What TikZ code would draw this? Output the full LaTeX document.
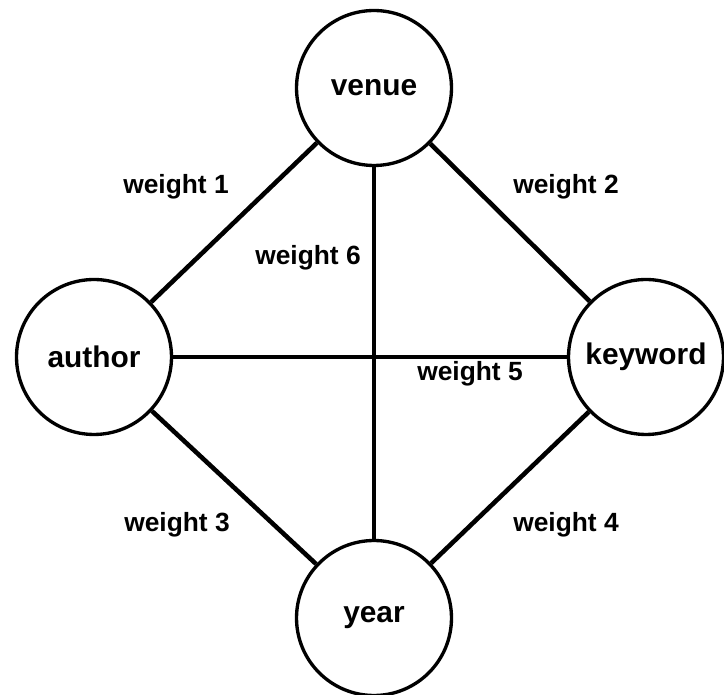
\documentclass[tikz,border=0pt]{standalone}
\usepackage{fontspec}
\setmainfont{Liberation Sans}
\usepackage{tikz}
\usetikzlibrary{positioning}

\begin{document}
\begin{tikzpicture}[x=0.02cm, y=-0.02cm]
 	  \tikzstyle{ent}=[draw, circle, line width=1.9pt, minimum size=3.1cm, inner sep=0pt, font=\fontsize{17}{20}\selectfont\bfseries, fill=white]
 	  \tikzstyle{wt}=[font=\fontsize{15}{18}\selectfont\bfseries]
\useasboundingbox (0,0) rectangle (724,695);
    \node[ent] (venue) at (374,88) {venue};
    \node[ent] (author) at (94,357) {author};
    \node[ent] (keyword) at (646,357) {keyword};
    \node[ent] (year) at (374,618) {year};
\foreach \a/\b in {venue/author,venue/keyword,author/year,keyword/year,author/keyword,venue/year}{
         \draw[line width=2.6pt] (\a) -- (\b);
      }
    \node[wt] (w1) at (176,187) {weight 1};
    \node[wt] (w2) at (566,187) {weight 2};
    \node[wt] (w6) at (308,258) {weight 6};
    \node[wt] (w5) at (470,374) {weight 5};
    \node[wt] (w3) at (177,525) {weight 3};
    \node[wt] (w4) at (566,525) {weight 4};
   \end{tikzpicture}
\end{document}
